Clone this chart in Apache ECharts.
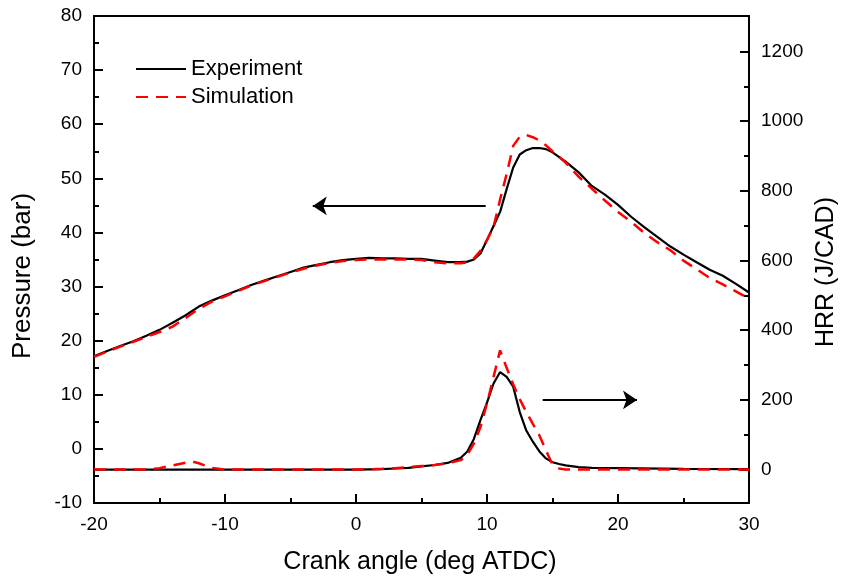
<!DOCTYPE html>
<html>
<head>
<meta charset="utf-8">
<script src="https://cdn.jsdelivr.net/npm/echarts@6/dist/echarts.min.js"></script>
<style>
  html, body { margin: 0; padding: 0; background: #fff; }
  #chart { width: 843px; height: 583px; }
</style>
</head>
<body>
<div id="chart"></div>
<script>
// Crank angles (deg ATDC) for the in-cylinder pressure traces
const pressureAngle = [-20,-19,-18,-17,-16,-15,-14,-13,-12,-11,-10,-9,-8,-7,-6,-5,-4,-3,-2,-1,0,1,2,3,4,5,6,7,8,8.5,9,9.5,10,10.5,11,11.5,12,12.5,13,13.5,14,14.5,15,16,17,18,19,20,21,22,23,24,25,26,27,28,29,30];
// Pressure (bar)
const pressureExp = [17.1,18.1,19.0,19.9,20.9,22.0,23.3,24.7,26.3,27.4,28.4,29.3,30.3,31.1,31.9,32.7,33.5,34.0,34.5,34.9,35.1,35.3,35.2,35.2,35.1,35.1,34.8,34.5,34.5,34.6,35.0,36.1,38.6,41.2,43.8,48.0,52.0,54.4,55.2,55.6,55.6,55.4,54.8,53.1,51.1,48.6,47.0,45.1,42.9,41.0,39.2,37.4,35.9,34.5,33.1,32.0,30.5,28.9];
const pressureSim = [17.0,18.0,18.9,19.8,20.7,21.6,22.6,24.2,25.9,27.2,28.2,29.2,30.2,31.0,31.8,32.6,33.3,33.9,34.4,34.7,34.9,35.0,35.0,35.0,35.0,34.9,34.5,34.3,34.3,34.5,35.2,36.6,38.6,41.0,46.1,50.8,56.0,57.7,58.0,57.6,57.0,56.1,55.0,52.9,50.3,48.1,45.9,43.8,42.0,39.9,38.2,36.7,34.8,33.2,31.6,30.4,29.1,27.8];

// Crank angles for the heat release rate traces
const hrrAngle = [-20,-17,-16,-15,-14,-13,-12.5,-12,-11,-10,-5,0,2,3,4,5,6,7,8,8.5,9,9.5,10,10.5,11,11.5,12,12.5,13,13.5,14,14.5,15,15.5,16,17,18,20,25,30];
// Heat release rate (J/CAD)
const hrrExp = [0,0,0,0,0,0,0,0,0,0,0,0,1,3,5,9,13,19,34,52,88,142,192,247,280,266,238,165,112,80,52,32,21,16,12,7,5,4,2,1];
const hrrSim = [0,0,0,4,12,20,23,18,5,0,0,0,2,4,7,10,13,18,27,42,75,122,190,266,342,292,245,202,165,131,98,55,15,3,0,0,0,0,0,0];

// Axis tick values
const angleTicks = { min: -20, max: 30, step: 10 };
const pressureTicks = { min: -10, max: 80, step: 10 };
const hrrMajor = [0, 200, 400, 600, 800, 1000, 1200];
const hrrMinor = [100, 300, 500, 700, 900, 1100];

// Direction arrows: pressure curve -> left axis, HRR curve -> right axis
const pressureArrow = [[9.9, 44.9], [-3.3, 44.9]];
const hrrArrow = [[14.25, 200], [21.45, 200]];

const pair = (xs, ys) => xs.map((x, i) => [x, ys[i]]);

const FONT = '"Liberation Sans", Arial, sans-serif';
const BLACK = '#000';
const RED = '#ff0000';

const axisLine = { show: true, onZero: false, lineStyle: { color: BLACK, width: 2 } };
const majorTick = { show: true, inside: true, length: 9, lineStyle: { color: BLACK, width: 2 } };
const minorTick = { show: true, splitNumber: 2, length: 5, lineStyle: { color: BLACK, width: 2 } };
const tickLabel = { color: BLACK, fontSize: 19, fontFamily: FONT, margin: 12, formatter: (v) => String(v) };

const arrowLine = (pts) => ({
  silent: true,
  symbol: ['none', 'arrow'],
  symbolSize: 14,
  label: { show: false },
  emphasis: { disabled: true },
  lineStyle: { color: BLACK, width: 2, type: 'solid' },
  itemStyle: { color: BLACK },
  data: [[{ coord: pts[0] }, { coord: pts[1] }]]
});

const chart = echarts.init(document.getElementById('chart'), null, { renderer: 'canvas' });

chart.setOption({
  animation: false,
  backgroundColor: '#fff',
  textStyle: { fontFamily: FONT, color: BLACK },
  grid: { left: 94, right: 94, top: 16, bottom: 80 },
  legend: {
    orient: 'vertical',
    left: 130,
    top: 53,
    itemWidth: 50,
    itemHeight: 14,
    itemGap: 6,
    selectedMode: false,
    itemStyle: { opacity: 0 },
    textStyle: { fontSize: 22, fontFamily: FONT, color: BLACK },
    data: ['Experiment', 'Simulation']
  },
  xAxis: [
    {
      type: 'value', position: 'bottom',
      min: angleTicks.min, max: angleTicks.max, interval: angleTicks.step,
      axisLine, axisTick: majorTick, minorTick,
      axisLabel: tickLabel,
      splitLine: { show: false }
    },
    {
      type: 'value', position: 'top',
      min: angleTicks.min, max: angleTicks.max,
      axisLine, axisTick: { show: false }, axisLabel: { show: false },
      splitLine: { show: false }
    }
  ],
  yAxis: [
    {
      type: 'value', position: 'left',
      min: pressureTicks.min, max: pressureTicks.max, interval: pressureTicks.step,
      axisLine, axisTick: majorTick, minorTick,
      axisLabel: tickLabel,
      splitLine: { show: false }
    },
    {
      type: 'value', position: 'right',
      min: -96, max: 1302,
      axisLine,
      axisTick: Object.assign({}, majorTick, { customValues: hrrMajor }),
      axisLabel: Object.assign({}, tickLabel, { customValues: hrrMajor }),
      splitLine: { show: false }
    },
    {
      type: 'value', position: 'right',
      min: -96, max: 1302,
      axisLine: { show: false, onZero: false },
      axisTick: { show: true, inside: true, length: 5, customValues: hrrMinor, lineStyle: { color: BLACK, width: 2 } },
      axisLabel: { show: false },
      splitLine: { show: false }
    }
  ],
  series: [
    {
      name: 'Experiment', type: 'line', xAxisIndex: 0, yAxisIndex: 0,
      data: pair(pressureAngle, pressureExp),
      symbol: 'none', showSymbol: false,
      lineStyle: { color: BLACK, width: 2.2 }, itemStyle: { color: BLACK },
      markLine: arrowLine(pressureArrow)
    },
    {
      name: 'Experiment', type: 'line', xAxisIndex: 0, yAxisIndex: 1,
      data: pair(hrrAngle, hrrExp),
      symbol: 'none', showSymbol: false,
      lineStyle: { color: BLACK, width: 2.2 }, itemStyle: { color: BLACK },
      markLine: arrowLine(hrrArrow)
    },
    {
      name: 'Simulation', type: 'line', xAxisIndex: 0, yAxisIndex: 0,
      data: pair(pressureAngle, pressureSim),
      symbol: 'none', showSymbol: false,
      lineStyle: { color: RED, width: 2.5, type: [12, 8] }, itemStyle: { color: RED }
    },
    {
      name: 'Simulation', type: 'line', xAxisIndex: 0, yAxisIndex: 1,
      data: pair(hrrAngle, hrrSim),
      symbol: 'none', showSymbol: false,
      lineStyle: { color: RED, width: 2.5, type: [12, 8] }, itemStyle: { color: RED }
    }
  ],
  graphic: [
    {
      type: 'text', x: 23, y: 276, rotation: Math.PI / 2, silent: true,
      style: { text: 'Pressure (bar)', font: '26px ' + FONT, fill: BLACK,
               align: 'center', verticalAlign: 'middle', textAlign: 'center', textVerticalAlign: 'middle' }
    },
    {
      type: 'text', x: 826, y: 272, rotation: Math.PI / 2, silent: true,
      style: { text: 'HRR (J/CAD)', font: '25px ' + FONT, fill: BLACK,
               align: 'center', verticalAlign: 'middle', textAlign: 'center', textVerticalAlign: 'middle' }
    },
    {
      type: 'text', x: 420, y: 562, silent: true,
      style: { text: 'Crank angle (deg ATDC)', font: '25px ' + FONT, fill: BLACK,
               align: 'center', verticalAlign: 'middle', textAlign: 'center', textVerticalAlign: 'middle' }
    }
  ]
});
</script>
</body>
</html>
